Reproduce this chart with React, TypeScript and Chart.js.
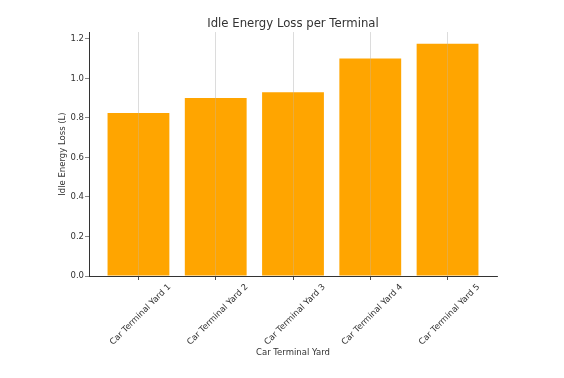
import React, { useEffect, useRef } from "react";
import { Chart, registerables } from "chart.js";

Chart.register(...registerables);

const categories = [
  "Car Terminal Yard 1",
  "Car Terminal Yard 2",
  "Car Terminal Yard 3",
  "Car Terminal Yard 4",
  "Car Terminal Yard 5",
];
const idleLoss = [0.825, 0.9, 0.93, 1.1, 1.175];
const yTicks = [0, 0.2, 0.4, 0.6, 0.8, 1.0, 1.2];

const FONT = "'DejaVu Sans', sans-serif";
const TEXT = "#333333";

const gridOnTop = {
  id: "gridOnTop",
  afterDatasetsDraw(chart: any) {
    const x = chart.scales.x;
    const ctx = chart.ctx;
    ctx.save();
    x.drawGrid(chart.chartArea);
    ctx.restore();
  },
};

export default function App() {
  const ref = useRef<HTMLCanvasElement | null>(null);
  useEffect(() => {
    if (!ref.current) return;
    const chart = new Chart(ref.current, {
      type: "bar",
      data: {
        datasets: [
          {
            data: categories.map((_, i) => ({ x: i, y: idleLoss[i] })),
            backgroundColor: "#FFA500",
            borderWidth: 0,
            categoryPercentage: 1,
            barPercentage: 0.8,
          },
        ],
      },
      plugins: [gridOnTop],
      options: {
        animation: false,
        responsive: false,
        maintainAspectRatio: false,
        layout: { padding: { left: 0, right: 67, top: 0, bottom: 0 } },
        plugins: {
          legend: { display: false },
          tooltip: { enabled: false },
          title: {
            display: true,
            fullSize: false,
            text: "Idle Energy Loss per Terminal",
            color: TEXT,
            font: { family: FONT, size: 11.7, weight: "normal" },
            padding: { top: 17, bottom: 1 },
          },
        },
        scales: {
          x: {
            type: "linear",
            offset: false,
            min: -0.64,
            max: 4.64,
            afterBuildTicks: (scale: any) => {
              scale.ticks = categories.map((_, i) => ({ value: i }));
            },
            afterFit: (scale: any) => {
              scale.height = 102;
            },
            ticks: {
              minRotation: 45,
              maxRotation: 45,
              autoSkip: false,
              labelOffset: 31,
              padding: 2,
              color: TEXT,
              font: { family: FONT, size: 8.5 },
              callback: (v: any) => categories[Math.round(Number(v))] ?? "",
            },
            grid: {
              display: true,
              offset: false,
              drawOnChartArea: true,
              drawTicks: true,
              tickLength: 4,
              color: "rgba(190,190,190,0.4)",
              tickColor: "#444444",
              lineWidth: 0.8,
            },
            border: { display: true, color: "#333333", width: 1 },
            title: {
              display: true,
              text: "Car Terminal Yard",
              color: TEXT,
              font: { family: FONT, size: 8.5 },
              padding: { top: 0, bottom: 20 },
            },
          },
          y: {
            type: "linear",
            min: 0,
            max: 1.234,
            afterBuildTicks: (scale: any) => {
              scale.ticks = yTicks.map((v) => ({ value: v }));
            },
            afterFit: (scale: any) => {
              scale.width = 89;
            },
            ticks: {
              padding: 1,
              color: TEXT,
              font: { family: FONT, size: 8.5 },
              callback: (v: any) => Number(v).toFixed(1),
            },
            grid: {
              display: true,
              drawOnChartArea: false,
              drawTicks: true,
              tickLength: 4,
              tickColor: "#888888",
            },
            border: { display: true, color: "#333333", width: 1 },
            title: {
              display: true,
              text: "Idle Energy Loss (L)",
              color: TEXT,
              font: { family: FONT, size: 8.5 },
              padding: { top: 58, bottom: 0 },
            },
          },
        },
      },
    } as any);
    return () => chart.destroy();
  }, []);
  return (
    <div style={{ position: "fixed", left: 0, top: 0, width: 564, height: 378, background: "#fff" }}>
      <canvas ref={ref} width={564} height={378} style={{ display: "block" }} />
    </div>
  );
}
